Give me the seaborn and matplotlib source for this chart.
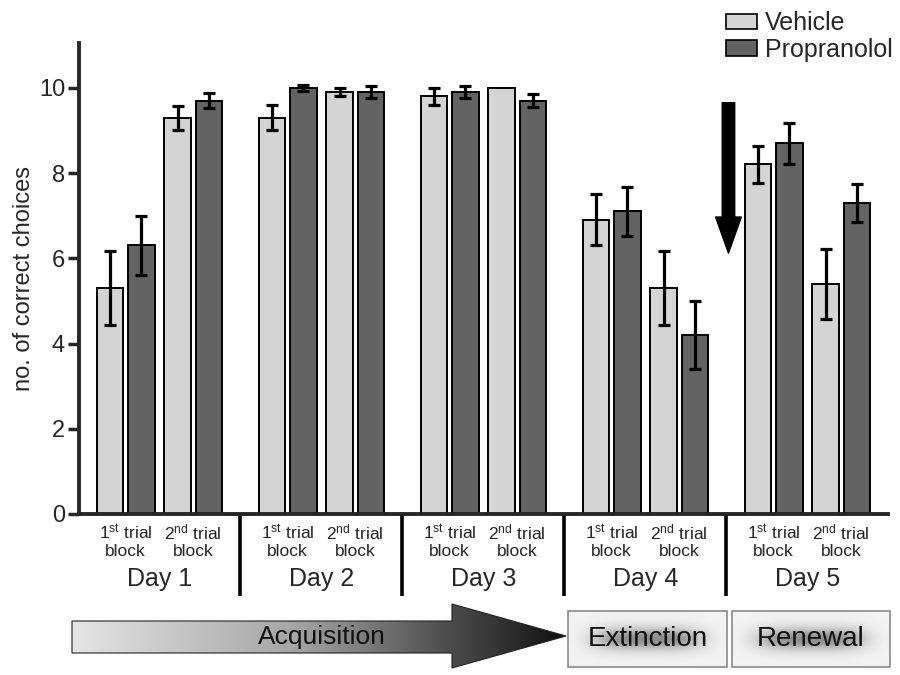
import numpy as np
import pandas as pd
import matplotlib
matplotlib.use('Agg')
import matplotlib.pyplot as plt
from matplotlib.patches import Polygon, Rectangle, Patch
from matplotlib.colors import LinearSegmentedColormap
import seaborn as sns

# ── data ──
days = ['Day 1', 'Day 2', 'Day 3', 'Day 4', 'Day 5']
blocks = ['1$^{\\mathrm{st}}$ trial\nblock', '2$^{\\mathrm{nd}}$ trial\nblock']
treatments = ['Vehicle', 'Propranolol']
vehicle_mean = [5.3, 9.3, 9.3, 9.9, 9.8, 10.0, 6.9, 5.3, 8.2, 5.4]
vehicle_sem = [0.87, 0.28, 0.3, 0.1, 0.2, 0.0, 0.6, 0.87, 0.43, 0.82]
prop_mean = [6.3, 9.7, 10.0, 9.9, 9.9, 9.7, 7.1, 4.2, 8.7, 7.3]
prop_sem = [0.7, 0.18, 0.07, 0.15, 0.15, 0.15, 0.58, 0.8, 0.48, 0.45]

# x positions: two blocks per day, wider gap between days
day_pitch = 2.4
pos = [d * day_pitch + b for d in range(len(days)) for b in range(len(blocks))]

df = pd.DataFrame({
    'pos': pos * 2,
    'treatment': ['Vehicle'] * len(pos) + ['Propranolol'] * len(pos),
    'mean': vehicle_mean + prop_mean,
    'sem': vehicle_sem + prop_sem,
})

sns.set_style('ticks')
plt.rcParams['font.family'] = ['Liberation Sans', 'DejaVu Sans']
plt.rcParams['mathtext.fontset'] = 'custom'
plt.rcParams['mathtext.rm'] = 'Liberation Sans'
plt.rcParams['mathtext.it'] = 'Liberation Sans:italic'
plt.rcParams['mathtext.bf'] = 'Liberation Sans:bold'

colors = {'Vehicle': '#d4d4d4', 'Propranolol': '#636363'}

fig = plt.figure(figsize=(9, 6.75), dpi=100)
ax = fig.add_axes([79 / 900, 1 - 514 / 675, (888 - 79) / 900, (514 - 43) / 675])

sns.barplot(data=df, x='pos', y='mean', hue='treatment', hue_order=treatments,
            palette=colors, native_scale=True, width=0.93, gap=0.15,
            edgecolor='black', linewidth=1.4, errorbar=None, legend=False, ax=ax)

# error bars on top of each bar
for cont, tr in zip(ax.containers, treatments):
    sub = df[df['treatment'] == tr].sort_values('pos')
    bars = sorted(cont.patches, key=lambda p: p.get_x())
    for bar, m, s in zip(bars, sub['mean'], sub['sem']):
        if s <= 0:
            continue
        ax.errorbar(bar.get_x() + bar.get_width() / 2, m, yerr=s, fmt='none',
                    ecolor='black', elinewidth=2.3, capsize=4.5, capthick=2.3, zorder=5)

ax.set_xlim((79 - 125.7) / 67.5, (888 - 125.7) / 67.5)
ax.set_ylim(0, 11.05)
ax.set_yticks(range(0, 11, 2))
ax.set_xticks(pos)
ax.set_xticklabels(blocks * len(days), fontsize=12.5, linespacing=1.15)
ax.tick_params(axis='x', length=0, pad=6)
ax.tick_params(axis='y', length=8, width=2.5, labelsize=17, pad=2)
ax.set_xlabel('')
ax.set_ylabel('no. of correct choices', fontsize=17, labelpad=3)
sns.despine(ax=ax)
for sp in ['left', 'bottom']:
    ax.spines[sp].set_linewidth(2.8)

# day labels and separators
for d, name in enumerate(days):
    ax.text(d * day_pitch + 0.5, -1.53, name, ha='center', va='center',
            fontsize=18, clip_on=False)
    if d > 0:
        xs = d * day_pitch - (day_pitch - 1) / 2
        ax.plot([xs, xs], [0, -1.92], color='black', lw=2.6, clip_on=False,
                solid_capstyle='butt')

# arrow marking the extinction -> renewal interval
ax.annotate('', xy=(8.93, 6.12), xytext=(8.93, 9.65),
            arrowprops=dict(arrowstyle='simple,head_length=2.6,head_width=1.85,tail_width=0.9',
                            color='black', shrinkA=0, shrinkB=0), annotation_clip=False)

# legend
handles = [Patch(facecolor=colors[t], edgecolor='black', linewidth=1.2, label=t) for t in treatments]
fig.legend(handles=handles, loc='upper left', bbox_to_anchor=(716 / 900, 0.998),
           frameon=False, fontsize=18, handlelength=1.25, handleheight=0.55,
           handletextpad=0.3, labelspacing=0.1, borderaxespad=0)

# ── phase panel below the axis (pixel coordinates) ──
ov = fig.add_axes([0, 0, 1, 1], zorder=-1)
ov.set_xlim(0, 900)
ov.set_ylim(675, 0)
ov.axis('off')

arrow_pts = [(72, 621), (452, 621), (452, 604), (566, 636), (452, 668), (452, 653), (72, 653)]
arrow = Polygon(arrow_pts, closed=True, facecolor='none', edgecolor='#222222', lw=0.8)
ov.add_patch(arrow)
cmap = LinearSegmentedColormap.from_list('acq', [(0, '#e4e4e4'), (0.45, '#a5a5a5'),
                                                  (0.75, '#505050'), (1, '#111111')])
grad = np.linspace(0, 1, 256)[None, :]
im = ov.imshow(grad, cmap=cmap, extent=(72, 566, 668, 604), aspect='auto',
               interpolation='bicubic')
im.set_clip_path(arrow)
ov.text(322, 637, 'Acquisition', ha='center', va='center', fontsize=19, color='#111111')

yy, xx = np.mgrid[-1:1:60j, -1:1:160j]
glow = np.exp(-((xx / 0.8) ** 4 + (yy / 0.55) ** 2) * 1.5)
for (x0, x1, label) in [(568, 727, 'Extinction'), (732, 890, 'Renewal')]:
    ov.imshow(glow, cmap='Greys', vmin=-0.25, vmax=2.1, extent=(x0, x1, 667, 611),
              aspect='auto', interpolation='bicubic')
    ov.add_patch(Rectangle((x0, 611), x1 - x0, 56, facecolor='none',
                           edgecolor='#8a8a8a', lw=1.2))
    ov.text((x0 + x1) / 2, 639, label, ha='center', va='center', fontsize=20, color='#111111')
ov.set_xlim(0, 900)
ov.set_ylim(675, 0)

fig.savefig('out.png', dpi=100)
